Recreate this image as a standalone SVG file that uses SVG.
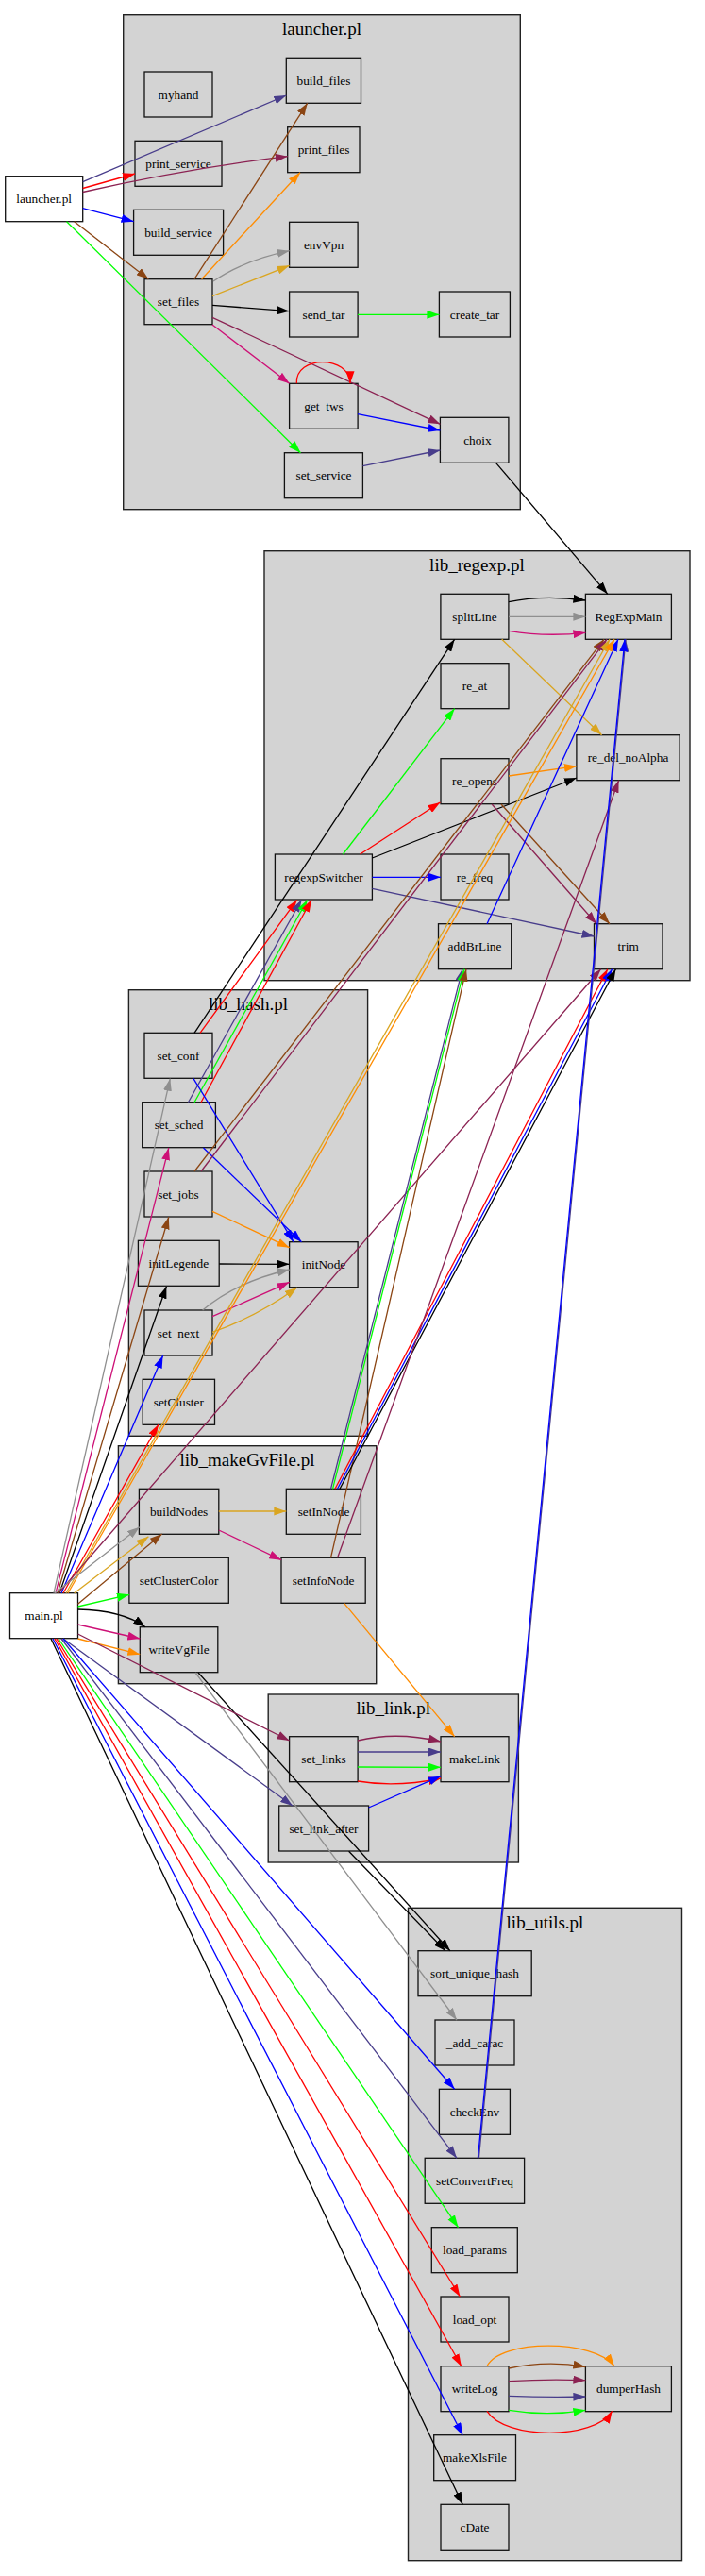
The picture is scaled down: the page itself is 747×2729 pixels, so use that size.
<svg xmlns="http://www.w3.org/2000/svg" width="747" height="2729" viewBox="0 0 747 2729">
<style>
.cl{fill:#d3d3d3;stroke:#222;stroke-width:1.4}
.n{fill:#d3d3d3;stroke:#111;stroke-width:1.3}
.w{fill:#fff;stroke:#111;stroke-width:1.3}
.t{font-family:"Liberation Serif",serif;font-size:13.3px;text-anchor:middle;fill:#000}
.ct{font-family:"Liberation Serif",serif;font-size:19px;text-anchor:middle;fill:#000}
.e path{fill:none;stroke-width:1.3}
.k{stroke:#000;marker-end:url(#a-k)}
.g{stroke:#8f8f8f;marker-end:url(#a-g)}
.r{stroke:#f00;marker-end:url(#a-r)}
.b{stroke:#00f;marker-end:url(#a-b)}
.gr{stroke:#0f0;marker-end:url(#a-gr)}
.d{stroke:#483d8b;marker-end:url(#a-d)}
.m{stroke:#8b2252;marker-end:url(#a-m)}
.br{stroke:#8b4513;marker-end:url(#a-br)}
.o{stroke:#ff8c00;marker-end:url(#a-o)}
.go{stroke:#daa520;marker-end:url(#a-go)}
.p{stroke:#cd1076;marker-end:url(#a-p)}
</style>
<defs>
<marker id="a-k" viewBox="0 0 13 9" refX="13" refY="4.5" markerWidth="13" markerHeight="9" markerUnits="userSpaceOnUse" orient="auto"><path d="M0,0L13,4.5L0,9z" fill="#000"/></marker>
<marker id="a-g" viewBox="0 0 13 9" refX="13" refY="4.5" markerWidth="13" markerHeight="9" markerUnits="userSpaceOnUse" orient="auto"><path d="M0,0L13,4.5L0,9z" fill="#8f8f8f"/></marker>
<marker id="a-r" viewBox="0 0 13 9" refX="13" refY="4.5" markerWidth="13" markerHeight="9" markerUnits="userSpaceOnUse" orient="auto"><path d="M0,0L13,4.5L0,9z" fill="#f00"/></marker>
<marker id="a-b" viewBox="0 0 13 9" refX="13" refY="4.5" markerWidth="13" markerHeight="9" markerUnits="userSpaceOnUse" orient="auto"><path d="M0,0L13,4.5L0,9z" fill="#00f"/></marker>
<marker id="a-gr" viewBox="0 0 13 9" refX="13" refY="4.5" markerWidth="13" markerHeight="9" markerUnits="userSpaceOnUse" orient="auto"><path d="M0,0L13,4.5L0,9z" fill="#0f0"/></marker>
<marker id="a-d" viewBox="0 0 13 9" refX="13" refY="4.5" markerWidth="13" markerHeight="9" markerUnits="userSpaceOnUse" orient="auto"><path d="M0,0L13,4.5L0,9z" fill="#483d8b"/></marker>
<marker id="a-m" viewBox="0 0 13 9" refX="13" refY="4.5" markerWidth="13" markerHeight="9" markerUnits="userSpaceOnUse" orient="auto"><path d="M0,0L13,4.5L0,9z" fill="#8b2252"/></marker>
<marker id="a-br" viewBox="0 0 13 9" refX="13" refY="4.5" markerWidth="13" markerHeight="9" markerUnits="userSpaceOnUse" orient="auto"><path d="M0,0L13,4.5L0,9z" fill="#8b4513"/></marker>
<marker id="a-o" viewBox="0 0 13 9" refX="13" refY="4.5" markerWidth="13" markerHeight="9" markerUnits="userSpaceOnUse" orient="auto"><path d="M0,0L13,4.5L0,9z" fill="#ff8c00"/></marker>
<marker id="a-go" viewBox="0 0 13 9" refX="13" refY="4.5" markerWidth="13" markerHeight="9" markerUnits="userSpaceOnUse" orient="auto"><path d="M0,0L13,4.5L0,9z" fill="#daa520"/></marker>
<marker id="a-p" viewBox="0 0 13 9" refX="13" refY="4.5" markerWidth="13" markerHeight="9" markerUnits="userSpaceOnUse" orient="auto"><path d="M0,0L13,4.5L0,9z" fill="#cd1076"/></marker>
</defs>
<rect width="747" height="2729" fill="#fff"/>
<g id="clusters">
<g id="cluster_launcher"><rect class="cl" x="130.7" y="15.7" width="420.6" height="524"/><text class="ct" x="341" y="37">launcher.pl</text></g>
<g id="cluster_lib_regexp"><rect class="cl" x="280" y="583.7" width="451" height="455"/><text class="ct" x="505.5" y="605">lib_regexp.pl</text></g>
<g id="cluster_lib_hash"><rect class="cl" x="136.4" y="1048.7" width="253.2" height="472.6"/><text class="ct" x="263" y="1070">lib_hash.pl</text></g>
<g id="cluster_lib_makeGvFile"><rect class="cl" x="125.4" y="1531.7" width="273.3" height="252"/><text class="ct" x="262" y="1553">lib_makeGvFile.pl</text></g>
<g id="cluster_lib_link"><rect class="cl" x="284.2" y="1795" width="265.2" height="178"/><text class="ct" x="416.8" y="1816">lib_link.pl</text></g>
<g id="cluster_lib_utils"><rect class="cl" x="432.5" y="2021.3" width="290" height="691.4"/><text class="ct" x="577.5" y="2042.5">lib_utils.pl</text></g>
</g>
<g id="nodes">
<g id="n_launcher_pl"><rect class="w" x="5.7" y="186.7" width="82" height="48"/><text class="t" x="46.7" y="215.2">launcher.pl</text></g>
<g id="n_myhand"><rect class="n" x="153" y="76" width="72" height="48"/><text class="t" x="189" y="104.5">myhand</text></g>
<g id="n_build_files"><rect class="n" x="303.3" y="61.3" width="79.2" height="48"/><text class="t" x="343" y="89.8">build_files</text></g>
<g id="n_print_files"><rect class="n" x="304.7" y="134.7" width="76.3" height="48"/><text class="t" x="343" y="163.2">print_files</text></g>
<g id="n_print_service"><rect class="n" x="143" y="149.3" width="92" height="48"/><text class="t" x="189" y="177.8">print_service</text></g>
<g id="n_build_service"><rect class="n" x="141.6" y="222.3" width="95" height="48"/><text class="t" x="189" y="250.8">build_service</text></g>
<g id="n_envVpn"><rect class="n" x="306.6" y="235.3" width="72.5" height="48"/><text class="t" x="343" y="263.8">envVpn</text></g>
<g id="n_set_files"><rect class="n" x="153" y="295.7" width="72" height="48"/><text class="t" x="189" y="324.2">set_files</text></g>
<g id="n_send_tar"><rect class="n" x="306.6" y="309" width="72.5" height="48"/><text class="t" x="343" y="337.5">send_tar</text></g>
<g id="n_create_tar"><rect class="n" x="465.4" y="309" width="75" height="48"/><text class="t" x="503" y="337.5">create_tar</text></g>
<g id="n_get_tws"><rect class="n" x="306.6" y="406.3" width="72.5" height="48"/><text class="t" x="343" y="434.8">get_tws</text></g>
<g id="n_choix"><rect class="n" x="466.4" y="442.3" width="72.5" height="48"/><text class="t" x="502.6" y="470.8">_choix</text></g>
<g id="n_set_service"><rect class="n" x="301.4" y="479.7" width="83" height="48"/><text class="t" x="343" y="508.2">set_service</text></g>
<g id="n_splitLine"><rect class="n" x="466.9" y="629.3" width="72" height="48"/><text class="t" x="503" y="657.8">splitLine</text></g>
<g id="n_RegExpMain"><rect class="n" x="620.4" y="629.3" width="91" height="48"/><text class="t" x="666" y="657.8">RegExpMain</text></g>
<g id="n_re_at"><rect class="n" x="467" y="702.7" width="72" height="48"/><text class="t" x="503" y="731.2">re_at</text></g>
<g id="n_re_del_noAlpha"><rect class="n" x="610.9" y="778.7" width="109.2" height="48"/><text class="t" x="665.5" y="807.2">re_del_noAlpha</text></g>
<g id="n_re_opens"><rect class="n" x="467" y="803.7" width="72" height="48"/><text class="t" x="503" y="832.2">re_opens</text></g>
<g id="n_regexpSwitcher"><rect class="n" x="291.4" y="905" width="103" height="48"/><text class="t" x="343" y="933.5">regexpSwitcher</text></g>
<g id="n_re_freq"><rect class="n" x="467" y="905" width="72" height="48"/><text class="t" x="503" y="933.5">re_freq</text></g>
<g id="n_addBrLine"><rect class="n" x="464.5" y="978.7" width="77.2" height="48"/><text class="t" x="503" y="1007.2">addBrLine</text></g>
<g id="n_trim"><rect class="n" x="629.5" y="978.7" width="72.5" height="48"/><text class="t" x="665.7" y="1007.2">trim</text></g>
<g id="n_set_conf"><rect class="n" x="153" y="1094.3" width="72" height="48"/><text class="t" x="189" y="1122.8">set_conf</text></g>
<g id="n_set_sched"><rect class="n" x="150.7" y="1167.7" width="77.7" height="48"/><text class="t" x="189.5" y="1196.2">set_sched</text></g>
<g id="n_set_jobs"><rect class="n" x="153" y="1241" width="72" height="48"/><text class="t" x="189" y="1269.5">set_jobs</text></g>
<g id="n_initLegende"><rect class="n" x="146.4" y="1314.3" width="85.8" height="48"/><text class="t" x="189.3" y="1342.8">initLegende</text></g>
<g id="n_initNode"><rect class="n" x="306.6" y="1315.7" width="72.5" height="48"/><text class="t" x="343" y="1344.2">initNode</text></g>
<g id="n_set_next"><rect class="n" x="153" y="1388" width="72" height="48"/><text class="t" x="189" y="1416.5">set_next</text></g>
<g id="n_setCluster"><rect class="n" x="151.2" y="1461.3" width="76.3" height="48"/><text class="t" x="189.3" y="1489.8">setCluster</text></g>
<g id="n_buildNodes"><rect class="n" x="147.4" y="1577.3" width="84.4" height="48"/><text class="t" x="189.6" y="1605.8">buildNodes</text></g>
<g id="n_setInNode"><rect class="n" x="303.3" y="1577.3" width="79.1" height="48"/><text class="t" x="343" y="1605.8">setInNode</text></g>
<g id="n_setClusterColor"><rect class="n" x="136.9" y="1650.3" width="105.4" height="48"/><text class="t" x="189.6" y="1678.8">setClusterColor</text></g>
<g id="n_setInfoNode"><rect class="n" x="298" y="1650.3" width="89.2" height="48"/><text class="t" x="342.6" y="1678.8">setInfoNode</text></g>
<g id="n_main_pl"><rect class="w" x="10.5" y="1687.7" width="72" height="48"/><text class="t" x="46.5" y="1716.2">main.pl</text></g>
<g id="n_writeVgFile"><rect class="n" x="148.3" y="1723.7" width="82.5" height="48"/><text class="t" x="189.6" y="1752.2">writeVgFile</text></g>
<g id="n_set_links"><rect class="n" x="306.6" y="1839.7" width="72.5" height="48"/><text class="t" x="343" y="1868.2">set_links</text></g>
<g id="n_makeLink"><rect class="n" x="467" y="1839.7" width="72" height="48"/><text class="t" x="503" y="1868.2">makeLink</text></g>
<g id="n_set_link_after"><rect class="n" x="295.7" y="1913" width="94.9" height="48"/><text class="t" x="343" y="1941.5">set_link_after</text></g>
<g id="n_sort_unique_hash"><rect class="n" x="443" y="2066.7" width="120.2" height="48"/><text class="t" x="503" y="2095.2">sort_unique_hash</text></g>
<g id="n_add_carac"><rect class="n" x="461" y="2140" width="84" height="48"/><text class="t" x="503" y="2168.5">_add_carac</text></g>
<g id="n_checkEnv"><rect class="n" x="465.4" y="2213.3" width="75" height="48"/><text class="t" x="503" y="2241.8">checkEnv</text></g>
<g id="n_setConvertFreq"><rect class="n" x="450.2" y="2286.3" width="105.4" height="48"/><text class="t" x="503" y="2314.8">setConvertFreq</text></g>
<g id="n_load_params"><rect class="n" x="457.3" y="2359.7" width="91" height="48"/><text class="t" x="503" y="2388.2">load_params</text></g>
<g id="n_load_opt"><rect class="n" x="467" y="2433" width="72" height="48"/><text class="t" x="503" y="2461.5">load_opt</text></g>
<g id="n_writeLog"><rect class="n" x="467" y="2506.7" width="72" height="48"/><text class="t" x="503" y="2535.2">writeLog</text></g>
<g id="n_dumperHash"><rect class="n" x="620.4" y="2506.7" width="91" height="48"/><text class="t" x="666" y="2535.2">dumperHash</text></g>
<g id="n_makeXlsFile"><rect class="n" x="459.7" y="2579.7" width="86.8" height="48"/><text class="t" x="503" y="2608.2">makeXlsFile</text></g>
<g id="n_cDate"><rect class="n" x="467" y="2653.3" width="72" height="48"/><text class="t" x="503" y="2681.8">cDate</text></g>
</g>
<g id="connectors" class="e">
<path class="d" d="M87.7,192.7L303.3,101"/>
<path class="r" d="M87.7,199.5L143,184"/>
<path class="m" d="M87.7,203.5Q200,178 304.7,165.7"/>
<path class="b" d="M87.7,220.7L141.6,234.7"/>
<path class="br" d="M78.7,234.7L157.4,295.7"/>
<path class="gr" d="M70.6,234.7L318.5,479.7"/>
<path class="br" d="M206,295.7L325.7,109.3"/>
<path class="o" d="M213.6,295.7L318,182.7"/>
<path class="g" d="M226,298Q258,276 306.6,265.7"/>
<path class="go" d="M225,313.7L306.6,281.3"/>
<path class="k" d="M225,323.3L306.6,329.7"/>
<path class="gr" d="M379,333.3L465.4,333.3"/>
<path class="p" d="M225,344L306.6,406.3"/>
<path class="m" d="M225,336.3L466.4,449.3"/>
<path class="r" d="M314.3,406.3C312,376 371,376 371,406.3"/>
<path class="b" d="M379,438.7L466.4,456"/>
<path class="d" d="M384.4,493.7L466.4,477"/>
<path class="k" d="M525.5,490.3L643.8,629.3"/>
<path class="k" d="M539,637.7Q575,630 620.4,636"/>
<path class="g" d="M539,653.3L620.4,653.3"/>
<path class="p" d="M539,668.3Q578,675 620.4,670.3"/>
<path class="go" d="M531.7,677.3L637.6,778.7"/>
<path class="k" d="M206,1094.3L481.6,677.3"/>
<path class="gr" d="M363.4,905L481.6,750.7"/>
<path class="r" d="M381.5,905L466.4,850"/>
<path class="k" d="M394.4,909L610.9,824"/>
<path class="o" d="M539,822L610.9,811.7"/>
<path class="m" d="M521.2,852L632,978.7"/>
<path class="br" d="M531,852L646,978.7"/>
<path class="b" d="M394.4,929.3L466.9,929.3"/>
<path class="d" d="M394.4,941.3L629.5,992"/>
<path class="b" d="M516,978.7L655,677.3"/>
<path class="r" d="M212,1094.3L314.7,953.3"/>
<path class="d" d="M199.5,1167.7L319.5,953.3"/>
<path class="gr" d="M206,1167.7L325.7,953.3"/>
<path class="r" d="M213,1167.7L330,953.3"/>
<path class="b" d="M205,1142.7L311,1315.7"/>
<path class="b" d="M215.5,1216L319.5,1315.7"/>
<path class="o" d="M225,1283.3L306.6,1321.7"/>
<path class="k" d="M232.2,1339L306.6,1339.3"/>
<path class="g" d="M214.6,1388Q250,1358 306.6,1345"/>
<path class="p" d="M225,1394.7L306.6,1358.3"/>
<path class="go" d="M225,1411.3Q272,1395 314.7,1364"/>
<path class="br" d="M206,1241L640,677.3"/>
<path class="m" d="M213,1241L643,677.3"/>
<path class="g" d="M57,1687.7L180.3,1142.7"/>
<path class="p" d="M59,1687.7L178.8,1216"/>
<path class="br" d="M61,1687.7L178.8,1289.3"/>
<path class="k" d="M63,1687.7L176.4,1362.7"/>
<path class="b" d="M65,1687.7L172.6,1436.3"/>
<path class="r" d="M67,1687.7L167.9,1509.3"/>
<path class="go" d="M70,1687.7L646,677.3"/>
<path class="o" d="M72,1687.7L651,677.3"/>
<path class="m" d="M62,1687.7L636.6,1026.7"/>
<path class="g" d="M58,1687.7L147.8,1617.7"/>
<path class="go" d="M78.7,1687.7L157.4,1627.7"/>
<path class="br" d="M82.5,1699.3L171.7,1625"/>
<path class="gr" d="M82.5,1702L136.9,1689.3"/>
<path class="k" d="M82.5,1705Q130,1706 154,1723.7"/>
<path class="p" d="M82.5,1721L148.3,1736"/>
<path class="o" d="M82.5,1736L148.3,1752.7"/>
<path class="go" d="M231.8,1601L303.3,1601"/>
<path class="p" d="M231.8,1621L298,1652.7"/>
<path class="o" d="M364.8,1698.7L481.6,1839.7"/>
<path class="k" d="M210,1772L476.9,2066.7"/>
<path class="g" d="M207,1772L484,2140"/>
<path class="m" d="M82.5,1731L306.6,1844"/>
<path class="d" d="M67,1736L310,1913"/>
<path class="k" d="M369.6,1961.3L472,2066.7"/>
<path class="m" d="M379,1844Q420,1834 467,1845"/>
<path class="d" d="M379,1856L467,1856"/>
<path class="gr" d="M379,1872L467,1872.3"/>
<path class="r" d="M379,1887Q420,1894 467,1884"/>
<path class="b" d="M390.6,1915L467,1881.7"/>
<path class="d" d="M350.5,1577.3L490,1026.7"/>
<path class="gr" d="M352.5,1577.3L492,1026.7"/>
<path class="br" d="M350.5,1650.3L494,1026.7"/>
<path class="r" d="M355,1577.3L643.8,1026.7"/>
<path class="b" d="M357.5,1577.3L648.5,1026.7"/>
<path class="k" d="M360,1577.3L652.4,1026.7"/>
<path class="m" d="M357.6,1650.3L655.6,826.7"/>
<path class="b" d="M67,1736L481.6,2213.3"/>
<path class="d" d="M65,1736L484,2286.3"/>
<path class="gr" d="M62,1736L485.5,2359.7"/>
<path class="r" d="M60,1736L487.4,2433"/>
<path class="r" d="M58,1736L488.8,2506.7"/>
<path class="b" d="M56,1736L490.2,2579.7"/>
<path class="k" d="M54,1736L490.2,2653.3"/>
<path class="d" d="M507.4,2286.3L663,677.3"/>
<path class="b" d="M506.4,2286.3L662,677.3"/>
<path class="o" d="M516,2506.7C530,2478 630,2478 651,2506.7"/>
<path class="br" d="M539,2509Q580,2500 620.4,2507.5"/>
<path class="m" d="M539,2522.7Q580,2520 620.4,2521.7"/>
<path class="d" d="M539,2538.3Q580,2540 620.4,2539"/>
<path class="gr" d="M539,2553.3Q580,2560 620.4,2553.3"/>
<path class="r" d="M516,2554.3C535,2585 630,2585 648.6,2554.3"/>
</g>
</svg>
